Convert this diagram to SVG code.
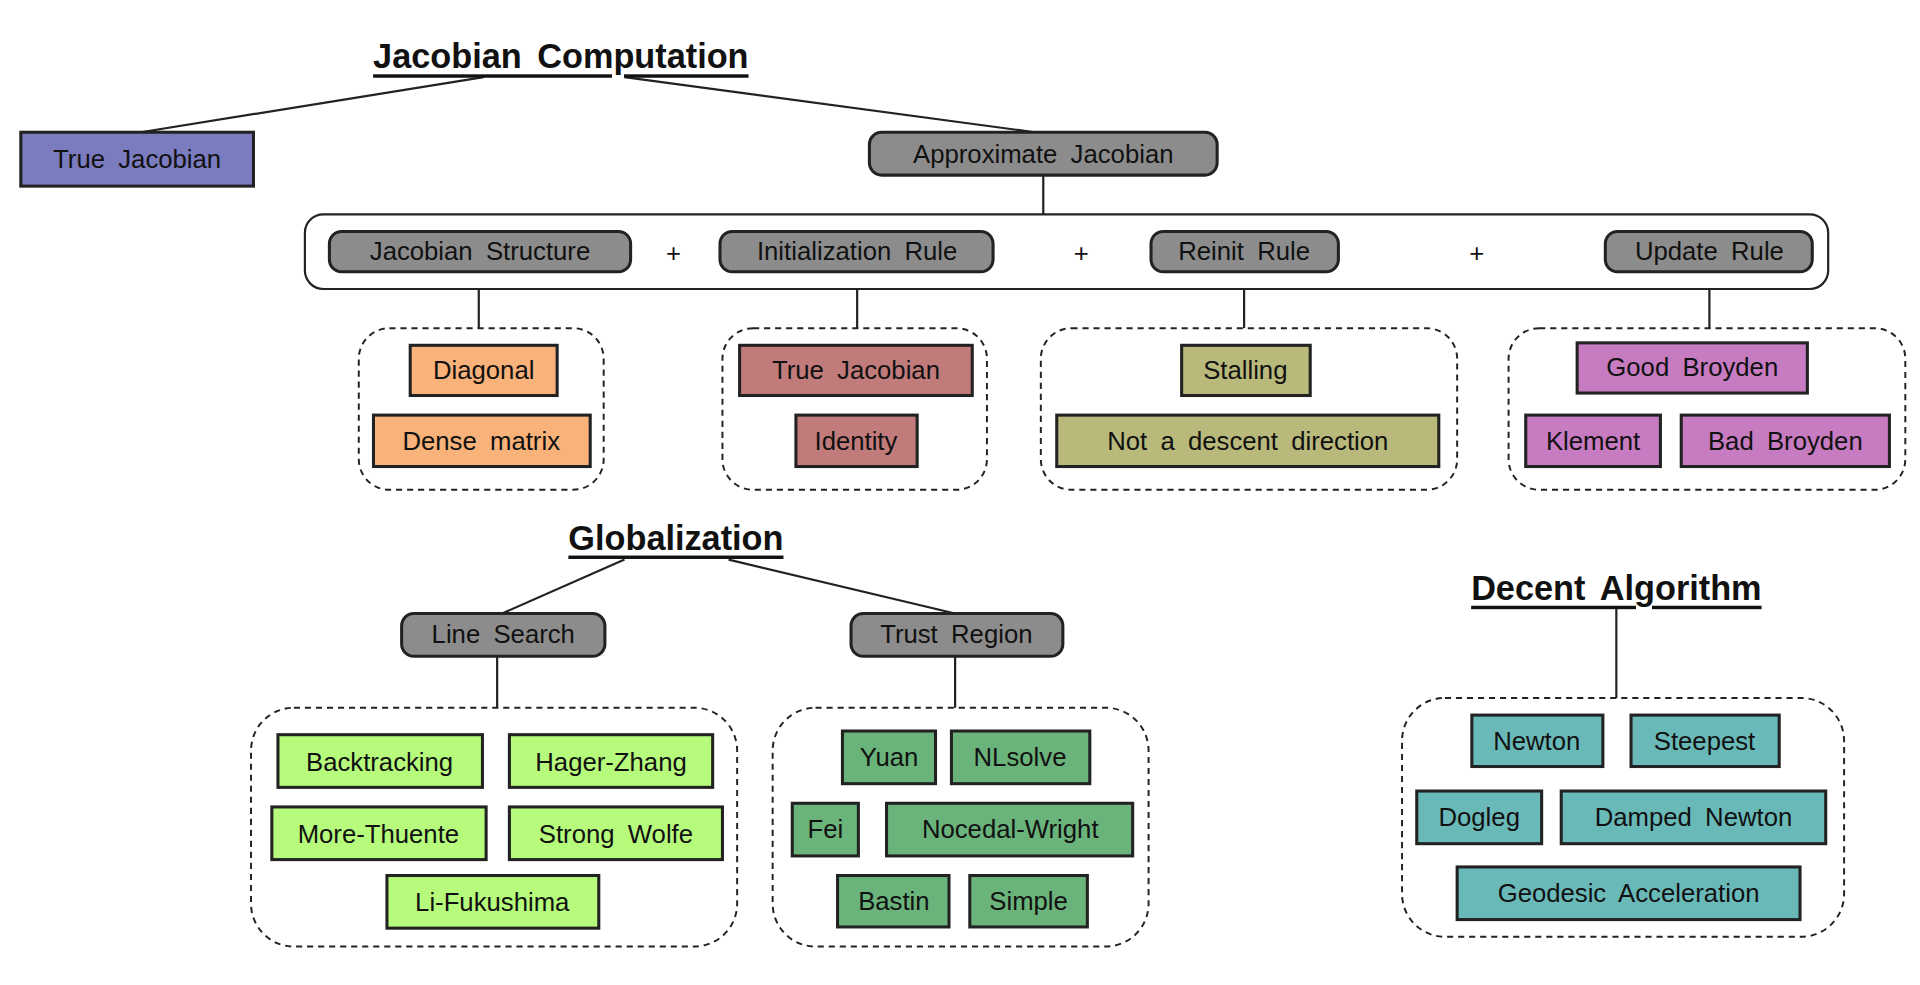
<svg xmlns="http://www.w3.org/2000/svg" width="1920" height="985" viewBox="0 0 1920 985">
<style>
text{font-family:"Liberation Sans",Arial,sans-serif;font-size:21px;fill:#111;text-anchor:middle;dominant-baseline:central;word-spacing:5px}
.t{font-size:28px;font-weight:bold;text-decoration:underline}
.b{stroke:#222;stroke-width:2.5}
.g{fill:#8c8c8c}
.d{fill:none;stroke:#222;stroke-width:1.6;stroke-dasharray:5 4}
#conn line{stroke:#222;stroke-width:1.8}
</style>
<rect width="1920" height="985" fill="#fff"/>
<g transform="scale(1.2245)">
<g id="conn">
<line x1="395" y1="63" x2="115" y2="108"/><line x1="510" y1="63" x2="845" y2="108"/>
<line x1="852" y1="143" x2="852" y2="175"/>
<line x1="391" y1="222" x2="391" y2="268"/><line x1="700" y1="222" x2="700" y2="268"/>
<line x1="1016" y1="222" x2="1016" y2="268"/><line x1="1396" y1="222" x2="1396" y2="268"/>
<line x1="510" y1="457" x2="410" y2="501"/><line x1="595" y1="457" x2="780" y2="501"/>
<line x1="406" y1="536" x2="406" y2="578"/><line x1="780" y1="536" x2="780" y2="578"/>
<line x1="1320" y1="496" x2="1320" y2="570"/>
</g>
<g id="titles">
<text class="t" x="458" y="46">Jacobian Computation</text>
<text class="t" x="552" y="439">Globalization</text>
<text class="t" x="1320" y="480">Decent Algorithm</text>
</g>
<g id="trueJ"><rect class="b" x="17" y="108" width="190" height="44" fill="#7b7bc0"/><text x="112" y="130">True Jacobian</text></g>
<g id="approx"><rect class="b g" x="710" y="108" width="284" height="35" rx="10"/><text x="852" y="126">Approximate Jacobian</text></g>
<g id="combo"><rect x="249" y="175" width="1244" height="61" rx="15" fill="#fff" stroke="#222" stroke-width="1.8"/>
<text x="550" y="207">+</text><text x="883" y="207">+</text><text x="1206" y="207">+</text></g>
<g id="js"><rect class="b g" x="269" y="189" width="246" height="33" rx="10"/><text x="392" y="205">Jacobian Structure</text></g>
<g id="ir"><rect class="b g" x="588" y="189" width="223" height="33" rx="10"/><text x="700" y="205">Initialization Rule</text></g>
<g id="rr"><rect class="b g" x="940" y="189" width="153" height="33" rx="10"/><text x="1016" y="205">Reinit Rule</text></g>
<g id="ur"><rect class="b g" x="1311" y="189" width="169" height="33" rx="10"/><text x="1396" y="205">Update Rule</text></g>
<g id="groups">
<rect class="d" x="293" y="268" width="200" height="132" rx="25"/>
<rect class="d" x="590" y="268" width="216" height="132" rx="25"/>
<rect class="d" x="850" y="268" width="340" height="132" rx="25"/>
<rect class="d" x="1232" y="268" width="324" height="132" rx="25"/>
<rect class="d" x="205" y="578" width="397" height="195" rx="35"/>
<rect class="d" x="631" y="578" width="307" height="195" rx="35"/>
<rect class="d" x="1145" y="570" width="361" height="195" rx="35"/>
</g>
<g id="diag"><rect class="b" x="335" y="282" width="120" height="41" fill="#f9b27a"/><text x="395" y="302">Diagonal</text></g>
<g id="dense"><rect class="b" x="305" y="339" width="177" height="42" fill="#f9b27a"/><text x="393" y="360">Dense matrix</text></g>
<g id="tj2"><rect class="b" x="604" y="282" width="190" height="41" fill="#c17b7b"/><text x="699" y="302">True Jacobian</text></g>
<g id="ident"><rect class="b" x="650" y="339" width="99" height="42" fill="#c17b7b"/><text x="699" y="360">Identity</text></g>
<g id="stall"><rect class="b" x="965" y="282" width="105" height="41" fill="#b9b97b"/><text x="1017" y="302">Stalling</text></g>
<g id="nadd"><rect class="b" x="863" y="339" width="312" height="42" fill="#b9b97b"/><text x="1019" y="360">Not a descent direction</text></g>
<g id="gb"><rect class="b" x="1288" y="280" width="188" height="41" fill="#c77bc1"/><text x="1382" y="300">Good Broyden</text></g>
<g id="kl"><rect class="b" x="1246" y="339" width="110" height="42" fill="#c77bc1"/><text x="1301" y="360">Klement</text></g>
<g id="bb"><rect class="b" x="1373" y="339" width="170" height="42" fill="#c77bc1"/><text x="1458" y="360">Bad Broyden</text></g>
<g id="ls"><rect class="b g" x="328" y="501" width="166" height="35" rx="10"/><text x="411" y="518">Line Search</text></g>
<g id="tr"><rect class="b g" x="695" y="501" width="173" height="35" rx="10"/><text x="781" y="518">Trust Region</text></g>
<g id="bt"><rect class="b" x="227" y="600" width="167" height="43" fill="#b6fb7b"/><text x="310" y="622">Backtracking</text></g>
<g id="hz"><rect class="b" x="416" y="600" width="166" height="43" fill="#b6fb7b"/><text x="499" y="622">Hager-Zhang</text></g>
<g id="mt"><rect class="b" x="222" y="659" width="175" height="43" fill="#b6fb7b"/><text x="309" y="681">More-Thuente</text></g>
<g id="sw"><rect class="b" x="416" y="659" width="174" height="43" fill="#b6fb7b"/><text x="503" y="681">Strong Wolfe</text></g>
<g id="lf"><rect class="b" x="316" y="715" width="173" height="43" fill="#b6fb7b"/><text x="402" y="737">Li-Fukushima</text></g>
<g id="yuan"><rect class="b" x="688" y="597" width="76" height="43" fill="#6ab47b"/><text x="726" y="618">Yuan</text></g>
<g id="nls"><rect class="b" x="777" y="597" width="113" height="43" fill="#6ab47b"/><text x="833" y="618">NLsolve</text></g>
<g id="fei"><rect class="b" x="647" y="656" width="54" height="43" fill="#6ab47b"/><text x="674" y="677">Fei</text></g>
<g id="nw"><rect class="b" x="724" y="656" width="201" height="43" fill="#6ab47b"/><text x="825" y="677">Nocedal-Wright</text></g>
<g id="bas"><rect class="b" x="684" y="715" width="91" height="42" fill="#6ab47b"/><text x="730" y="736">Bastin</text></g>
<g id="simp"><rect class="b" x="792" y="715" width="96" height="42" fill="#6ab47b"/><text x="840" y="736">Simple</text></g>
<g id="newt"><rect class="b" x="1202" y="584" width="107" height="42" fill="#6ab9b9"/><text x="1255" y="605">Newton</text></g>
<g id="steep"><rect class="b" x="1332" y="584" width="121" height="42" fill="#6ab9b9"/><text x="1392" y="605">Steepest</text></g>
<g id="dog"><rect class="b" x="1157" y="646" width="102" height="43" fill="#6ab9b9"/><text x="1208" y="667">Dogleg</text></g>
<g id="dn"><rect class="b" x="1275" y="646" width="216" height="43" fill="#6ab9b9"/><text x="1383" y="667">Damped Newton</text></g>
<g id="geo"><rect class="b" x="1190" y="708" width="280" height="43" fill="#6ab9b9"/><text x="1330" y="729">Geodesic Acceleration</text></g>
</g>
</svg>
